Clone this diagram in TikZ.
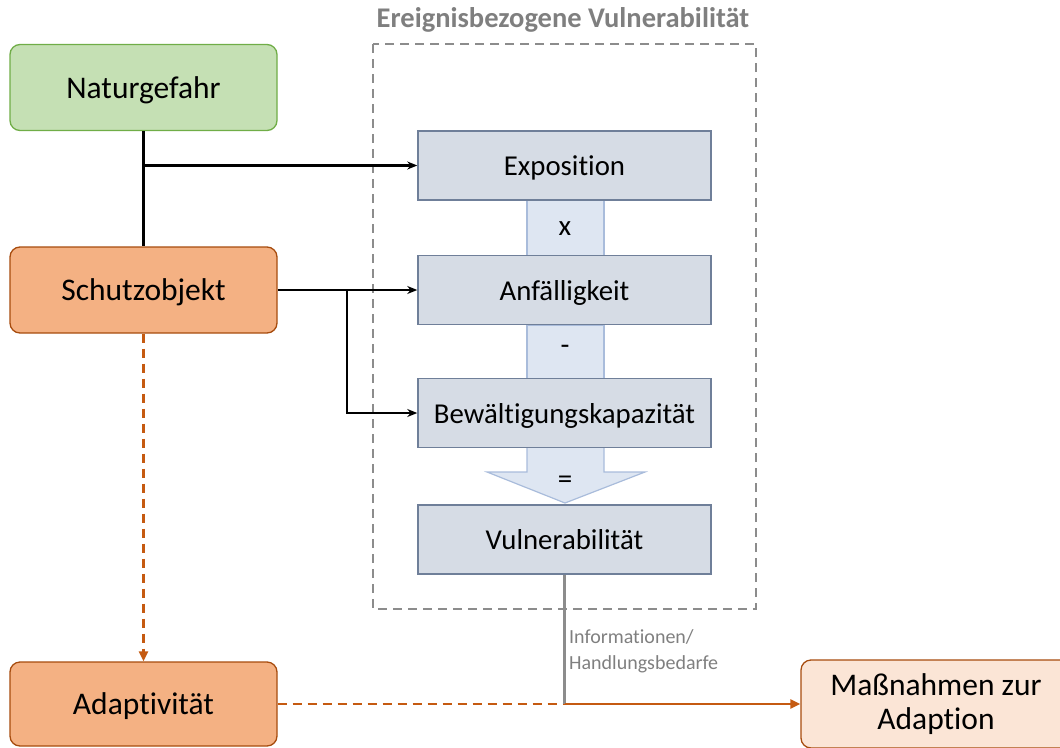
\documentclass[tikz,border=0pt]{standalone}
\usepackage{fontspec}
\setmainfont{Carlito}[Ligatures=NoCommon]
\usetikzlibrary{arrows.meta}
\definecolor{greenfill}{HTML}{C5E0B4}
\definecolor{greenline}{HTML}{70AD47}
\definecolor{orangefill}{HTML}{F4B183}
\definecolor{orangeline}{HTML}{C55A11}
\definecolor{lightorange}{HTML}{FBE5D6}
\definecolor{bluefill}{HTML}{D6DCE5}
\definecolor{blueline}{HTML}{6F7F99}
\definecolor{shaftfill}{HTML}{DEE6F2}
\definecolor{shaftline}{HTML}{A9BCDB}
\definecolor{framegray}{HTML}{8C8C8C}
\definecolor{textgray}{HTML}{7F7F7F}
\tikzset{
  roundbox/.style={draw, rounded corners=10pt, line width=1.3pt, minimum width=267pt, minimum height=86pt, text depth=0pt, font=\fontsize{31.5}{36}\selectfont},
  hazard/.style={roundbox, fill=greenfill, draw=greenline},
  objectbox/.style={roundbox, fill=orangefill, draw=orangeline!85!black},
  measurebox/.style={draw, rounded corners=10pt, line width=1.3pt, fill=lightorange, draw=orangeline!85!black, align=center, font=\fontsize{31.5}{36}\selectfont},
  factor/.style={draw=blueline, fill=bluefill, line width=1.5pt, minimum width=293pt, minimum height=69pt, text depth=0pt, font=\fontsize{28.8}{33}\selectfont},
  link/.style={line width=2.2pt, black, -{Stealth[length=10pt,width=8pt]}},
  orangelink/.style={line width=2.2pt, orangeline, -{Triangle[length=10pt,width=9pt]}},
  opsym/.style={font=\fontsize{29}{33}\selectfont},
}
\begin{document}
\begin{tikzpicture}[x=1pt,y=-1pt]
\useasboundingbox (0,0) rectangle (1060,747);

% event-related vulnerability frame
\draw[framegray, line width=2pt, dash pattern=on 9pt off 6pt] (373,44) rectangle (756,609);
\node[textgray, font=\bfseries\fontsize{28.5}{32}\selectfont] (title) at (563,20) {Ereignisbezogene Vulnerabilität};

% connecting shafts between the factors
\draw[shaftline, fill=shaftfill, line width=1.2pt] (527,200) rectangle (604,256);
\draw[shaftline, fill=shaftfill, line width=1.2pt] (527,325) rectangle (604,379);
\draw[shaftline, fill=shaftfill, line width=1.2pt]
  (527,447) -- (527,472) -- (487,472) -- (565,503) -- (645,472) -- (604,472) -- (604,447) -- cycle;
\node[opsym] (opx) at (565,229) {x};
\node[opsym] (opminus) at (565,350) {-};
\node[opsym] (opeq) at (565,482) {=};

% factor boxes
\node[factor] (expo) at (564.5,165.5) {Exposition};
\node[factor] (anf) at (564.5,290) {Anfälligkeit};
\node[factor] (bew) at (564.5,413) {Bewältigungskapazität};
\node[factor] (vul) at (564.5,539.5) {Vulnerabilität};

% left column
\node[hazard] (nat) at (143.5,87.5) {Naturgefahr};
\node[objectbox] (schutz) at (143.5,290) {Schutzobjekt};
\node[objectbox, minimum height=84pt] (adapt) at (143.5,704) {Adaptivität};
\node[measurebox, minimum width=270pt, minimum height=88pt] (mass) at (936,704) {Maßnahmen zur\\[-2pt]Adaption};

% black connectors
\coordinate (natsplit) at (nat.south |- expo.west);
\coordinate (schsplit) at (347,290);
\draw[line width=2.2pt] (nat.south) -- (schutz.north);
\draw[link] (natsplit) -- (expo.west);
\draw[link] (schutz.east) -- (anf.west);
\draw[link] (schsplit) |- (bew.west);

% adaptation path
\coordinate (join) at (vul.south |- adapt.east);
\draw[orangeline, line width=2.2pt, dash pattern=on 9pt off 6pt, -{Triangle[length=10pt,width=9pt]}] (schutz.south) -- (adapt.north);
\draw[orangeline, line width=2.2pt, dash pattern=on 9pt off 6pt] (adapt.east) -- (join);
\draw[framegray, line width=2.2pt] (vul.south) -- (join);
\draw[orangelink] (join) -- (mass.west);
\node[textgray, anchor=north west, align=left, font=\fontsize{20}{26}\selectfont, inner sep=0pt] (info) at (569,629) {Informationen/\\Handlungsbedarfe};
\end{tikzpicture}
\end{document}
